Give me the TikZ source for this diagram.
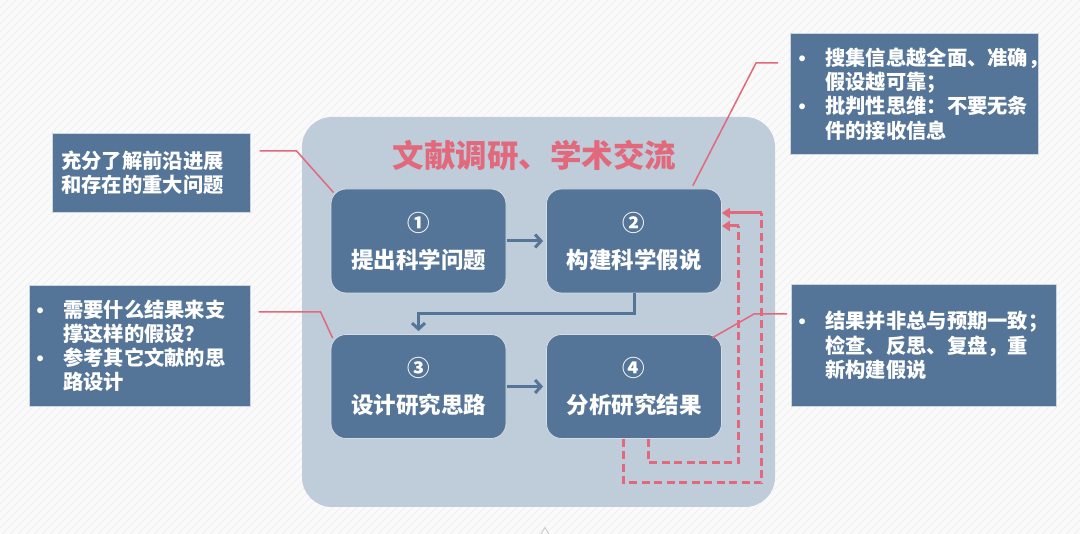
\documentclass[tikz,border=0pt]{standalone}
\usepackage{fontspec}
\setmainfont{Noto Sans CJK SC}
\newfontfamily\bulfont{Liberation Sans}
\usetikzlibrary{arrows.meta,calc}
\definecolor{pagebg}{HTML}{FAFAFA}
\definecolor{stripe}{HTML}{F1F1F1}
\definecolor{panel}{HTML}{BFCCDA}
\definecolor{boxblue}{HTML}{557598}
\definecolor{accent}{HTML}{E2687C}
\definecolor{tri}{HTML}{C8C8C8}
\newcommand{\mybul}{\makebox[26.5pt][l]{{\bulfont •}}}
\newcommand{\myind}{\hspace*{26.5pt}}
\begin{document}
\begin{tikzpicture}[x=1pt,y=-1pt,
  stepbox/.style={draw=white!75!boxblue, line width=0.8pt, fill=boxblue, rounded corners=15pt,
    minimum width=175pt, minimum height=104pt, text=white,
    font=\fontsize{22.5}{37}\selectfont\bfseries, align=center, inner sep=0pt},
  callout/.style={fill=boxblue, draw=white!70!boxblue, line width=0.6pt, anchor=north west, inner sep=0pt},
  ctext/.style={text=white, font=\fontsize{20.3}{24.3}\selectfont\bfseries, align=left, anchor=west, inner sep=0pt},
  flow/.style={draw=boxblue, line width=3pt, -{Straight Barb[length=6pt,width=13pt]}},
  loop/.style={draw=accent, line width=3pt, dash pattern=on 8pt off 4.5pt},
  loophead/.style={draw=accent, line width=3pt, -{Triangle[length=8pt,width=10pt]}},
  lead/.style={draw=accent, line width=1.5pt}]
\useasboundingbox (0,0) rectangle (1080,534);
\fill[pagebg] (0,0) rectangle (1080,534);
\begin{scope}
\clip (0,0) rectangle (1080,534);
\foreach \i in {0,8,...,1616} \draw[stripe, line width=0.8pt] (\i,0) -- (\i-534,534);
\end{scope}
% panel
\node[fill=panel, rounded corners=30pt, minimum width=473pt, minimum height=390pt, inner sep=0pt] (panel) at (538.5,312) {};
\node[font=\fontsize{31.5}{38}\selectfont\bfseries, text=accent] (title) at (534.5,155) {文献调研、学术交流};
% step boxes
\node[stepbox] (b1) at (418.5,241) {①\\提出科学问题};
\node[stepbox] (b2) at (634,241) {②\\构建科学假说};
\node[stepbox] (b3) at (418.5,386.5) {③\\设计研究思路};
\node[stepbox] (b4) at (634,386.5) {④\\分析研究结果};
% flow arrows
\draw[flow, shorten >=3pt, shorten <=1pt] (b1) -- (b2);
\draw[flow, shorten >=3pt, shorten <=1pt] (b3) -- (b4);
\draw[flow, shorten >=3pt] (b2.south) -- ++(0,20) -| (b3.north);
% feedback loops
\draw[loop] ($(b4.south)+(-11,0)$) -- ++(0,44) -| ($(b2.east)+(40,-28)$);
\draw[loophead] ($(b2.east)+(40,-28)$) -- ($(b2.east)+(0,-28)$);
\draw[loop] ($(b4.south)+(14,0)$) -- ++(0,24) -| ($(b2.east)+(17,-15)$);
\draw[loophead] ($(b2.east)+(17,-15)$) -- ($(b2.east)+(0,-15)$);
% callouts
\node[callout, minimum width=198pt, minimum height=79pt] (c1) at (52,133) {};
\node[ctext] (t1) at ($(c1.west)+(9,0)$) {充分了解前沿进展\\和存在的重大问题};
\node[callout, minimum width=221pt, minimum height=121pt] (c3) at (29,285) {};
\node[ctext] (t3) at ($(c3.west)+(7.5,0)$)
  {\mybul 需要什么结果来支\\\myind 撑这样的假设？\\\mybul 参考其它文献的思\\\myind 路设计};
\node[callout, minimum width=248pt, minimum height=121pt] (c2) at (790,33) {};
\node[ctext] (t2) at ($(c2.west)+(8.5,0)$)
  {\mybul 搜集信息越全面、准确，\\\myind 假设越可靠；\\\mybul 批判性思维：不要无条\\\myind 件的接收信息};
\node[callout, minimum width=265pt, minimum height=122pt] (c4) at (791,284) {};
\node[ctext] (t4) at ($(c4.west)+(7.5,0)$)
  {\mybul 结果并非总与预期一致；\\\myind 检查、反思、复盘，重\\\myind 新构建假说};
% leader lines
\draw[lead] ($(c1.north east)+(9,18)$) -- ++(37,0) -- ($(b1.north west)+(3,4)$);
\draw[lead] ($(c3.north east)+(8,27)$) -- ++(62,0) -- ($(b3.north west)+(2,4)$);
\draw[lead] ($(c2.north west)+(-12,30)$) -- ++(-22,0) -- ($(b2.north east)+(-29,-3)$);
\draw[lead] ($(c4.north west)+(-4,30)$) -- ++(-33,0) -- ($(b4.north east)+(-10,4)$);
% small mark at bottom
\draw[tri, line width=0.8pt] (541,534) -- (545,527.5) -- (549,534);
\end{tikzpicture}
\end{document}
